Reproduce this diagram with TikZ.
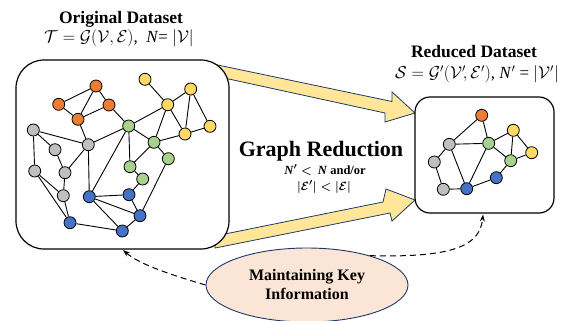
\documentclass[tikz,border=0pt]{standalone}
\usepackage{fontspec}
\setmainfont{Liberation Serif}
\usetikzlibrary{arrows.meta,shapes.geometric}
\definecolor{ored}{HTML}{ED7D31}
\definecolor{ylw}{HTML}{FFD966}
\definecolor{grn}{HTML}{A9D18E}
\definecolor{gry}{HTML}{BFBFBF}
\definecolor{blu}{HTML}{4472C4}
\definecolor{arrfill}{HTML}{FFE699}
\definecolor{navy}{HTML}{1F3864}
\definecolor{peach}{HTML}{FBE5D6}
\usepackage{amsmath}
\newcommand\condA{\mbox{\textit{N}${}'<{}$\,\textit{N} and/or}}
\newcommand\condB{\mbox{$\boldsymbol{|}\mathcal{E}'\boldsymbol{|}<\boldsymbol{|}\mathcal{E}\boldsymbol{|}$}}
\newcommand\origmath{\mbox{$\mathcal{T}=\mathcal{G}(\mathcal{V},\mathcal{E})$,\ \ \textit{N}= $|\mathcal{V}|$}}
\newcommand\redmath{\mbox{$\mathcal{S}=\mathcal{G}'(\mathcal{V}'\!,\mathcal{E}')$, \textit{N}$'$ = $|\mathcal{V}'|$}}
\tikzset{
  gn/.style={circle,draw=black,line width=0.8bp,minimum size=12bp,inner sep=0pt},
  O/.style={gn,fill=ored}, Y/.style={gn,fill=ylw}, G/.style={gn,fill=grn},
  A/.style={gn,fill=gry}, B/.style={gn,fill=blu},
  edge/.style={line width=0.9bp,black},
  dsbox/.style={draw=black,line width=1.2bp,fill=white,inner sep=0pt},
  bigarrow/.style={draw=navy,line width=0.8bp,fill=arrfill,line join=miter},
  title/.style={font=\bfseries\fontsize{17.5bp}{20bp}\selectfont,anchor=base,inner sep=0pt},
  mathline/.style={font=\fontsize{17bp}{19bp}\selectfont,anchor=base,inner sep=0pt},
  condtext/.style={font=\bfseries\boldmath\fontsize{12.5bp}{14bp}\selectfont,anchor=base,inner sep=0pt},
  dasharrow/.style={dashed,dash pattern=on 6bp off 4bp,line width=1bp,-{Stealth[length=7bp,width=5bp]}}
}
\begin{document}
\begin{tikzpicture}[x=1bp,y=-1bp]
\useasboundingbox (0,0) rectangle (573,320);
% big arrows (behind boxes)
\draw[bigarrow] (200,61.3) -- (392,101.5) -- (392,92) -- (415,113) -- (385,122) -- (385,113) -- (215,76) -- cycle;
\draw[bigarrow] (215,248) -- (390,213) -- (392,221) -- (415,200) -- (386,189) -- (383,202) -- (215,236) -- cycle;
% boxes
\node[dsbox,rounded corners=28bp,minimum width=213bp,minimum height=189bp] (big) at (122.5,154.5) {};
\node[dsbox,rounded corners=15bp,minimum width=139bp,minimum height=116bp] (small) at (484.5,155) {};
% titles
\node[title] (t1) at (121,23) {Original Dataset};
\node[mathline] (m1) at (119,42.5) {\origmath};
\node[title] (t2) at (474,57) {Reduced Dataset};
\node[mathline] (m2) at (477,78.5) {\redmath};
% middle text
\node[font=\bfseries\fontsize{22bp}{24bp}\selectfont,anchor=base,inner sep=0pt] (gr) at (321,156) {Graph Reduction};
\node[condtext] (c1) at (325,174) {\condA};
\node[condtext] (c2) at (324,190) {\condB};
% ellipse
\node[ellipse,draw=navy,line width=0.9bp,fill=peach,minimum width=202bp,minimum height=74bp,inner sep=0pt,
      align=center,font=\bfseries\fontsize{16bp}{19bp}\selectfont] (ell) at (307,285) {Maintaining Key\\Information};
\coordinate (bigin) at (123,250);
\coordinate (smallin) at (483,214.5);
\draw[dasharrow] (ell.west) .. controls (175,276) and (140,265) .. (bigin);
\draw[dasharrow] (ell.25) .. controls (455,258) and (480,245) .. (smallin);
% big graph nodes
\node[O] (O1) at (96,86) {};
\node[O] (O2) at (58.7,104.3) {};
\node[O] (O3) at (109,105) {};
\node[O] (O4) at (78,119.3) {};
\node[Y] (Y1) at (145,79.3) {};
\node[Y] (Y2) at (190.7,89) {};
\node[Y] (Y3) at (167.7,104.7) {};
\node[Y] (Y4) at (210,126.3) {};
\node[Y] (Y5) at (185,134) {};
\node[G] (G1) at (128.7,126) {};
\node[G] (G2) at (154,142.3) {};
\node[G] (G3) at (168.3,158.7) {};
\node[G] (G4) at (130,166.7) {};
\node[G] (G5) at (142.7,179) {};
\node[A] (A1) at (33.3,130) {};
\node[A] (A2) at (88.3,144.7) {};
\node[A] (A3) at (55,149.7) {};
\node[A] (A4) at (34.7,171) {};
\node[A] (A5) at (65,172.7) {};
\node[A] (A6) at (63.3,195.7) {};
\node[B] (B1) at (89.3,196.7) {};
\node[B] (B2) at (129,194.7) {};
\node[B] (B3) at (140,215.7) {};
\node[B] (B4) at (70,222.7) {};
\node[B] (B5) at (122.3,231) {};
\foreach \a/\b in {O1/O2,O1/O4,O1/O3,O2/O4,O4/O3,O3/G1,O4/A2,
  Y1/Y3,Y3/Y2,Y2/Y5,Y2/Y4,Y3/Y5,Y5/Y4,Y3/G2,Y3/G1,Y5/G2,
  G1/A2,G1/G2,G1/G4,G1/B1,G2/G4,G2/G3,G4/G5,G3/B3,G5/B2,
  A1/A2,A1/A3,A1/A4,A3/A5,A5/A2,A4/A6,A4/B4,A5/A6,A6/B4,A2/B1,
  B1/B2,B1/B3,B1/B5,B2/B3,B4/B5,B5/B3}
  \draw[edge] (\a) -- (\b);
% small graph nodes
\node[O] (so) at (481.7,115.3) {};
\node[A] (sg1) at (449.3,144.3) {};
\node[G] (sg2) at (488.7,143.3) {};
\node[Y] (sy1) at (513.3,130.3) {};
\node[Y] (sy2) at (531.7,152.7) {};
\node[G] (sgg) at (510.7,160.7) {};
\node[A] (sa1) at (434.3,162) {};
\node[A] (sa2) at (443.3,189.3) {};
\node[B] (sb1) at (466.7,188.7) {};
\node[B] (sb2) at (496.3,177.7) {};
\foreach \a/\b in {so/sg1,so/sg2,sg1/sg2,sg1/sa1,sa1/sa2,sa2/sb1,sg1/sb1,sb1/sg2,sb1/sb2,sb2/sgg,
  sg2/sy1,sg2/sgg,sy1/sgg,sy1/sy2,sy2/sgg}
  \draw[edge] (\a) -- (\b);
\end{tikzpicture}
\end{document}
